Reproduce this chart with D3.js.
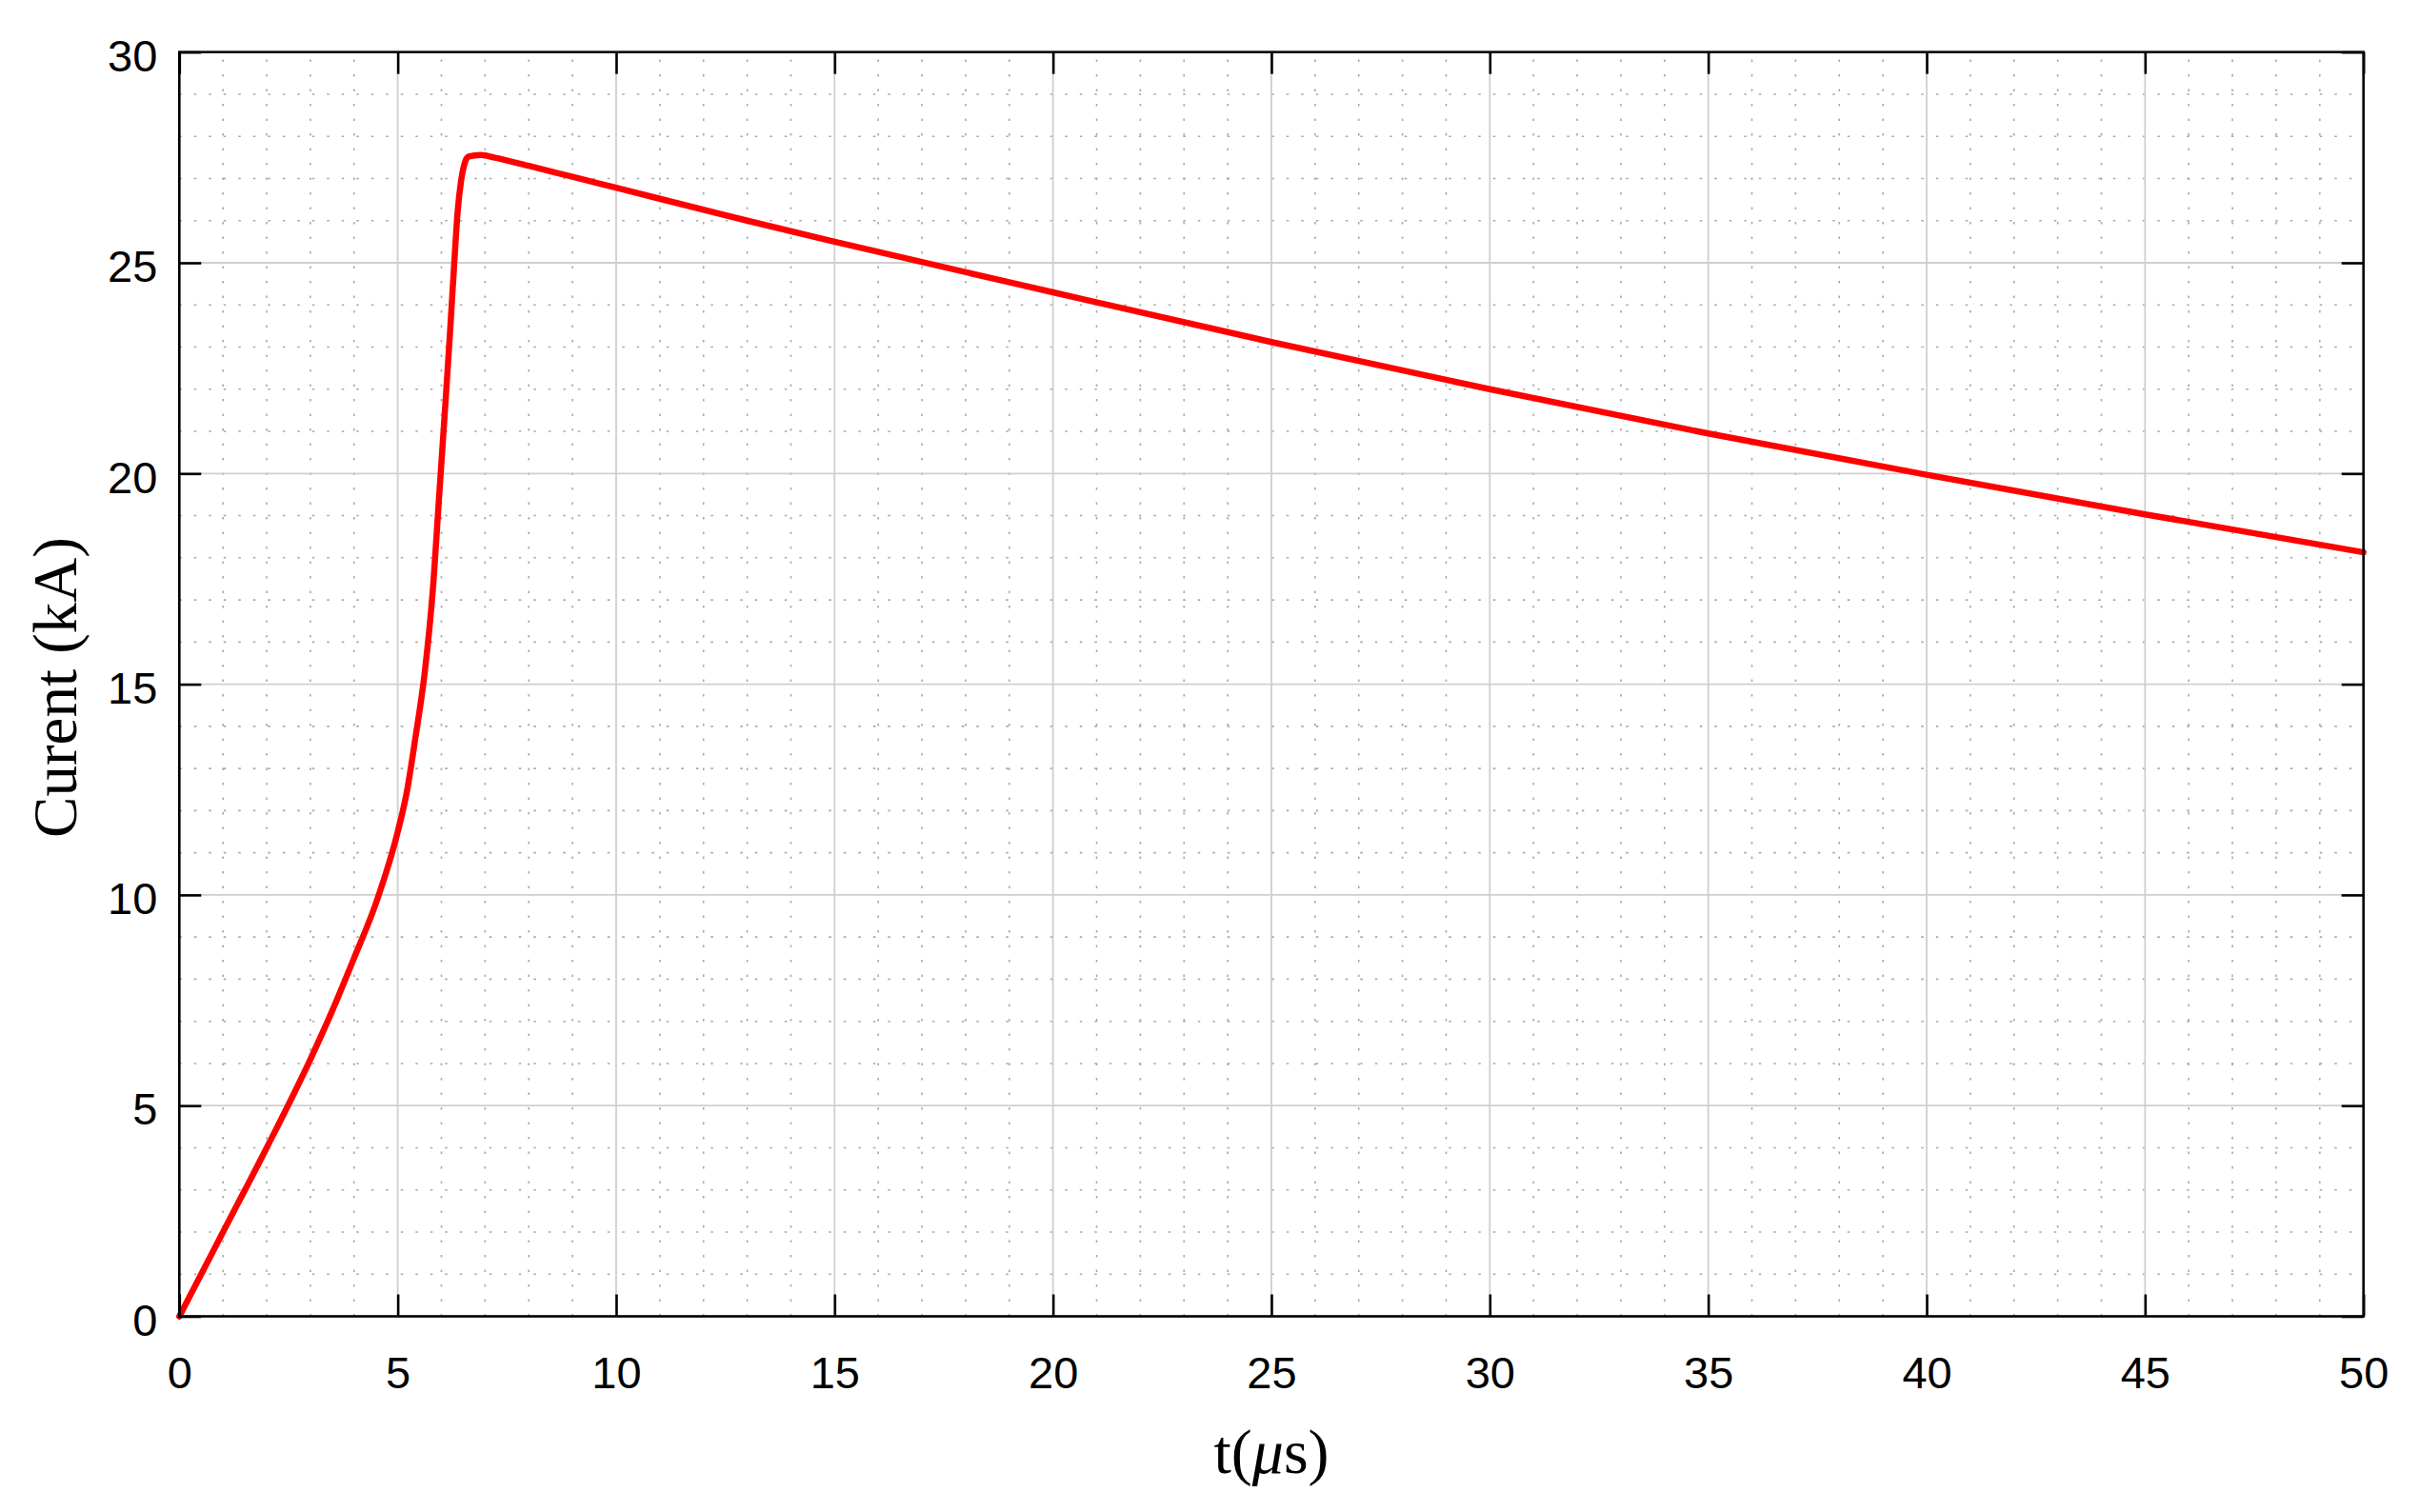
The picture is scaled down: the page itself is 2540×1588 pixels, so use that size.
<!DOCTYPE html>
<html>
<head>
<meta charset="utf-8">
<script src="https://cdn.jsdelivr.net/npm/d3@7"></script>
<style>
  html, body { margin: 0; padding: 0; background: #ffffff; }
  svg { display: block; }
</style>
</head>
<body>
<svg id="chart" width="2540" height="1588"></svg>
<script>
// ---- data ----
const timeUs = [0, 1, 2, 3, 3.5, 4, 4.5, 5, 5.2, 5.4, 5.62, 5.8, 5.95, 6.1, 6.2, 6.3, 6.37, 6.45, 6.52, 6.62, 6.9, 7.2, 8, 9, 10, 13, 15, 20, 25, 30, 35, 40, 45, 50];
const currentKA = [0, 2.0, 4.0, 6.1, 7.25, 8.5, 9.8, 11.5, 12.4, 13.7, 15.3, 17.2, 19.5, 21.8, 23.4, 25.1, 26.2, 26.95, 27.32, 27.52, 27.56, 27.5, 27.3, 27.04, 26.78, 26.0, 25.5, 24.3, 23.12, 22.0, 20.95, 19.97, 19.03, 18.13];
const xTicks = [0, 5, 10, 15, 20, 25, 30, 35, 40, 45, 50];
const yTicks = [0, 5, 10, 15, 20, 25, 30];
const xMinor = d3.range(1, 50).filter(v => v % 5 !== 0);
const yMinor = d3.range(1, 30).filter(v => v % 5 !== 0);
const yLabel = "Curent (kA)";

// ---- layout ----
const plot = { left: 188.3, right: 2481.7, top: 54.7, bottom: 1382.5 };
const svg = d3.select("#chart");
const x = d3.scaleLinear().domain([0, 50]).range([plot.left, plot.right]);
const y = d3.scaleLinear().domain([0, 30]).range([plot.bottom, plot.top]);
const W = plot.right - plot.left, H = plot.bottom - plot.top;

// minor dotted grid
const g = svg.append("g");
g.selectAll("line.mx").data(xMinor).join("line")
  .attr("x1", d => x(d)).attr("x2", d => x(d))
  .attr("y1", plot.bottom).attr("y2", plot.top)
  .attr("stroke", "#a8a8a8").attr("stroke-width", 1.6)
  .attr("stroke-dasharray", "2.5,13");
g.selectAll("line.my").data(yMinor).join("line")
  .attr("y1", d => y(d)).attr("y2", d => y(d))
  .attr("x1", plot.left).attr("x2", plot.right)
  .attr("stroke", "#a8a8a8").attr("stroke-width", 1.6)
  .attr("stroke-dasharray", "2.5,13");

// major grid
g.selectAll("line.Mx").data(xTicks.slice(1, -1)).join("line")
  .attr("x1", d => x(d)).attr("x2", d => x(d))
  .attr("y1", plot.bottom).attr("y2", plot.top)
  .attr("stroke", "#cfcfcf").attr("stroke-width", 1.8);
g.selectAll("line.My").data(yTicks.slice(1, -1)).join("line")
  .attr("y1", d => y(d)).attr("y2", d => y(d))
  .attr("x1", plot.left).attr("x2", plot.right)
  .attr("stroke", "#cfcfcf").attr("stroke-width", 1.8);

// curve
const line = d3.line().x(d => x(d[0])).y(d => y(d[1])).curve(d3.curveMonotoneX);
svg.append("path")
  .datum(timeUs.map((t, i) => [t, currentKA[i]]))
  .attr("d", line)
  .attr("fill", "none")
  .attr("stroke", "#ff0000")
  .attr("stroke-width", 6.5)
  .attr("stroke-linejoin", "round")
  .attr("stroke-linecap", "round");

// axes
const tickFont = "'Liberation Sans', Arial, sans-serif";
const tickLen = 23;
function styleAxis(sel) {
  sel.select(".domain").remove();
  sel.selectAll(".tick line").attr("stroke", "#000").attr("stroke-width", 2.6);
  sel.selectAll(".tick text").attr("fill", "#000")
    .style("font-family", tickFont).style("font-size", "47px");
}
svg.append("g").attr("transform", `translate(0,${plot.bottom})`)
  .call(d3.axisBottom(x).tickValues(xTicks).tickFormat(d3.format("d")).tickSizeInner(-tickLen).tickSizeOuter(0).tickPadding(42))
  .call(styleAxis);
svg.append("g").attr("transform", `translate(0,${plot.top})`)
  .call(d3.axisTop(x).tickValues(xTicks).tickFormat("").tickSizeInner(-tickLen).tickSizeOuter(0))
  .call(styleAxis);
svg.append("g").attr("transform", `translate(${plot.left},0)`)
  .call(d3.axisLeft(y).tickValues(yTicks).tickFormat(d3.format("d")).tickSizeInner(-tickLen).tickSizeOuter(0).tickPadding(23))
  .call(styleAxis)
  .call(s => s.selectAll(".tick text").attr("dy", "0.42em"));
svg.append("g").attr("transform", `translate(${plot.right},0)`)
  .call(d3.axisRight(y).tickValues(yTicks).tickFormat("").tickSizeInner(-tickLen).tickSizeOuter(0))
  .call(styleAxis);

// frame
svg.append("rect")
  .attr("x", plot.left).attr("y", plot.top).attr("width", W).attr("height", H)
  .attr("fill", "none").attr("stroke", "#000").attr("stroke-width", 2.6);

// axis titles
const serif = "'Liberation Serif', 'Times New Roman', serif";
const xt = svg.append("text")
  .attr("x", (plot.left + plot.right) / 2).attr("y", 1547)
  .attr("text-anchor", "middle")
  .style("font-family", serif).style("font-size", "66px").attr("fill", "#000");
xt.append("tspan").text("t(");
xt.append("tspan").attr("font-style", "italic").text("μ");
xt.append("tspan").text("s)");

svg.append("text")
  .attr("transform", `translate(80,722) rotate(-90)`)
  .attr("text-anchor", "middle")
  .style("font-family", serif).style("font-size", "65px").attr("fill", "#000")
  .text(yLabel);
</script>
</body>
</html>
